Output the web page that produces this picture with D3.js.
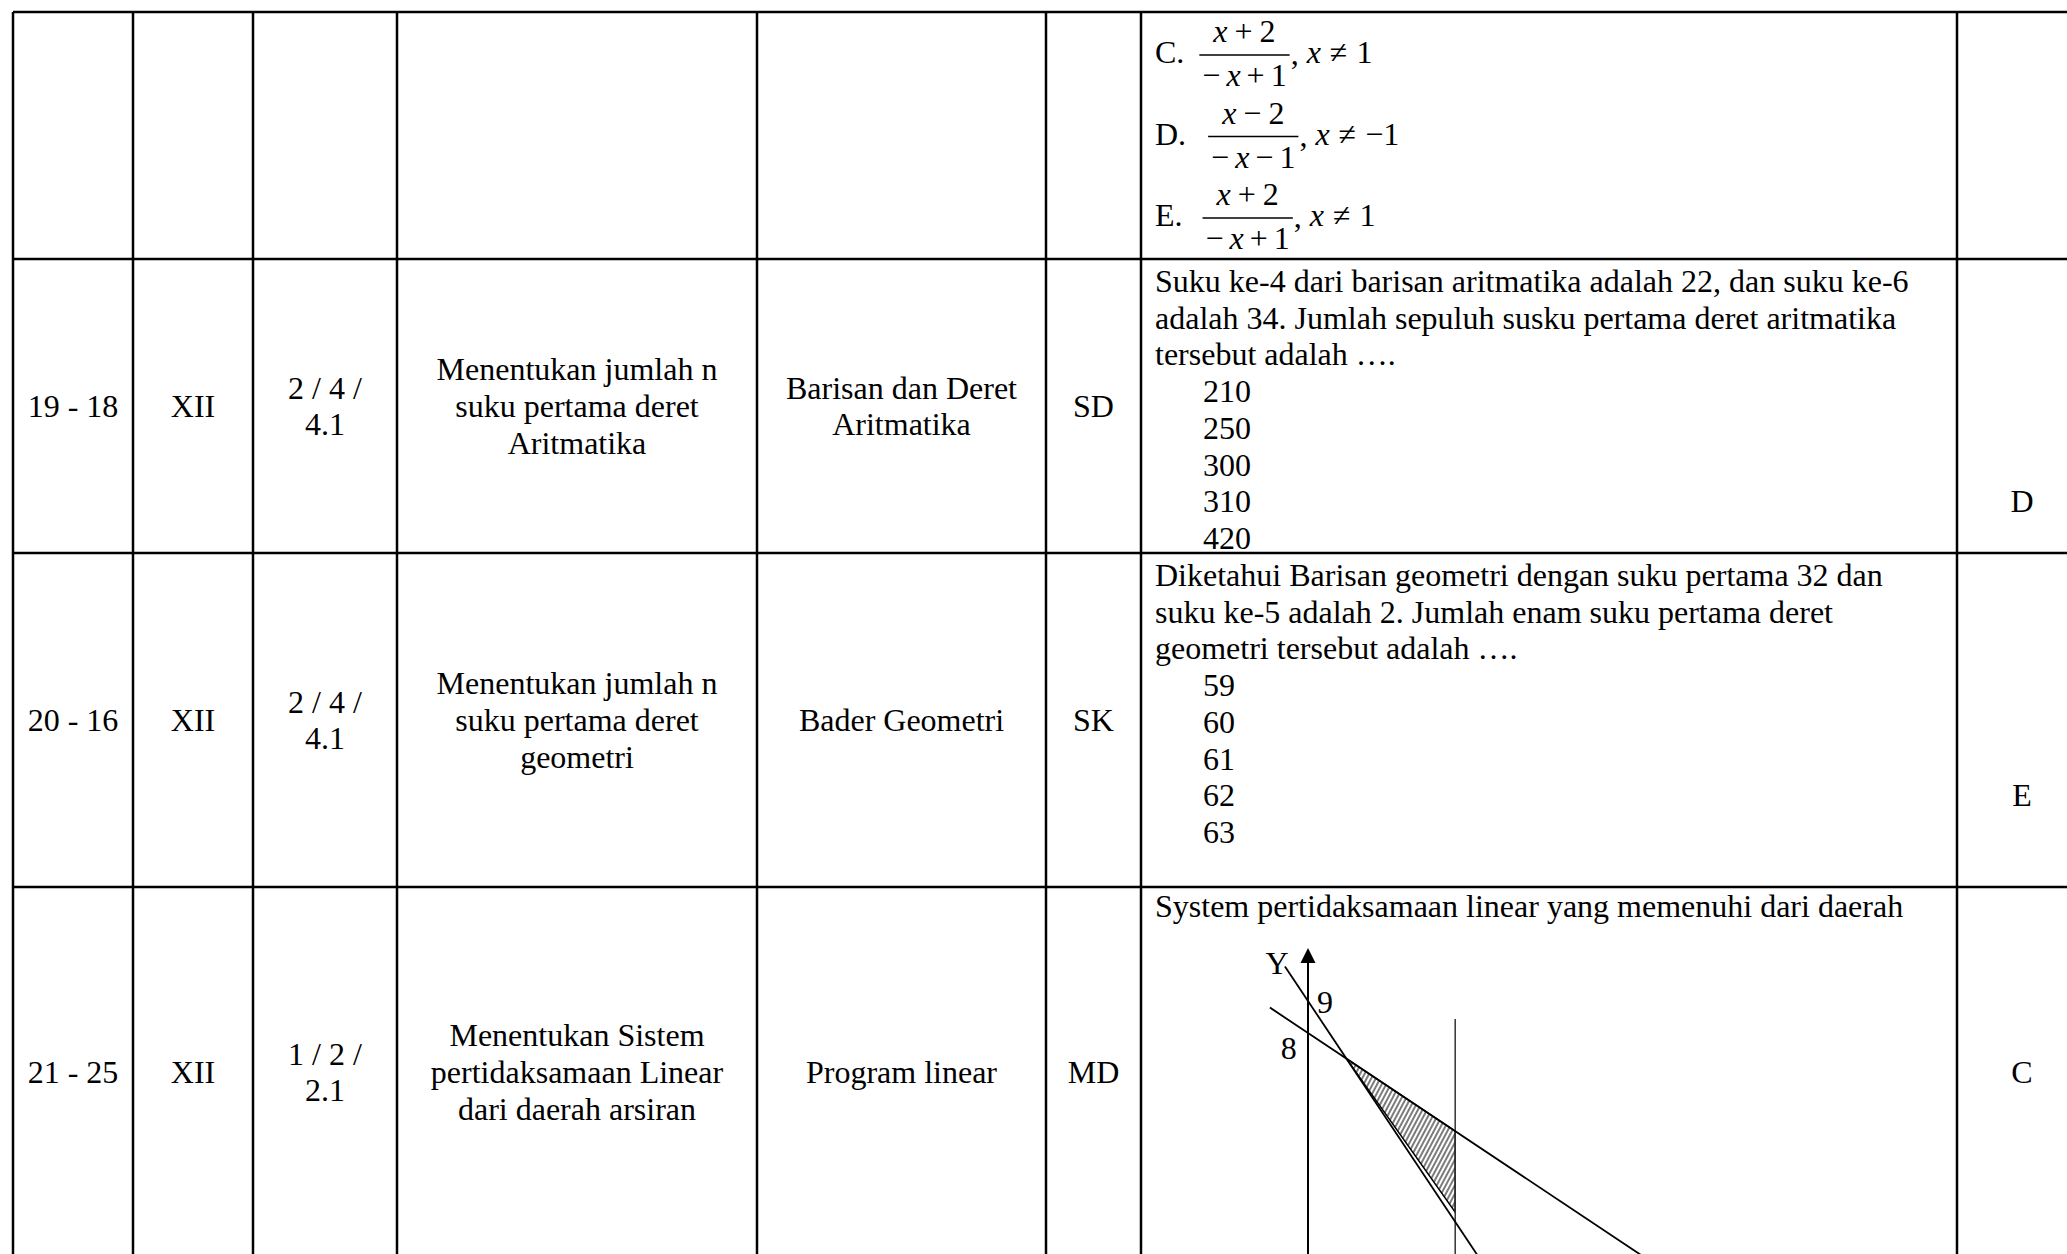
<!DOCTYPE html>
<html>
<head>
<meta charset="utf-8">
<script src="https://cdn.jsdelivr.net/npm/d3@7"></script>
<style>
  body { margin: 0; background: #fff; }
  text { font-family: "Liberation Serif", "Times New Roman", serif; fill: #000; }
</style>
</head>
<body>
<div id="sheet"></div>
<script>
// Table content, one entry per row (first row is the tail of the previous question)
const nomor = ["", "19 - 18", "20 - 16", "21 - 25"];
const kelas = ["", "XII", "XII", "XII"];
const kompetensi = [[], ["2 / 4 /", "4.1"], ["2 / 4 /", "4.1"], ["1 / 2 /", "2.1"]];
const indikator = [
    [],
    ["Menentukan jumlah n", "suku pertama deret", "Aritmatika"],
    ["Menentukan jumlah n", "suku pertama deret", "geometri"],
    ["Menentukan Sistem", "pertidaksamaan Linear", "dari daerah arsiran"]
];
const materi = [[], ["Barisan dan Deret", "Aritmatika"], ["Bader Geometri"], ["Program linear"]];
const level = ["", "SD", "SK", "MD"];
const soalTeks = [
    [],
    ["Suku ke-4 dari barisan aritmatika adalah 22, dan suku ke-6",
     "adalah 34. Jumlah sepuluh susku pertama deret aritmatika",
     "tersebut adalah …."],
    ["Diketahui Barisan geometri dengan suku pertama 32 dan",
     "suku ke-5 adalah 2. Jumlah enam suku pertama deret",
     "geometri tersebut adalah …."],
    ["System pertidaksamaan linear yang memenuhi dari daerah"]
];
const pilihan = [[], ["210", "250", "300", "310", "420"], ["59", "60", "61", "62", "63"], []];
const kunci = ["", "D", "E", "C"];
const kunciBaris = [null, 6, 6, null]; // line of the question the key sits on (null = centred)

// Options C-E of the previous question (fractions)
const opsi = ["C.", "D.", "E."];
const pembilang = [["x", "+", "2"], ["x", "−", "2"], ["x", "+", "2"]];
const penyebut = [["−", "x", "+", "1"], ["−", "x", "−", "1"], ["−", "x", "+", "1"]];
const syarat = [["x", "≠", "1"], ["x", "≠", "−1"], ["x", "≠", "1"]];

// Graph of question 21: a*x + b*y = c, drawn between x = from and x = to
const garis = [
    {a: 3, b: 2, c: 18, from: -0.72, to: 6.6},
    {a: 2, b: 3, c: 24, from: -1.19, to: 12}
];
const batasX = 4.6;          // vertical boundary x = 4.6
const batasXAtas = 8.44;     // where that line starts
const sumbuYAtas = 10.66;    // top of the y axis (arrow tip)
const arsirBawah = 2.4;      // lower corner of the shaded region on x = batasX
const labelGrafik = [
    {t: "Y", x: -0.97, y: 10.19},
    {t: "9", x: 0.53, y: 8.97},
    {t: "8", x: -0.6, y: 7.53}
];

// Layout
const W = 2067, H = 1254;
const FS = 32, LH = 36.7;
const colEdges = [13, 133, 253, 397, 757, 1046, 1141, 1957, 2087];
const rowEdges = [12, 259, 553, 887, 1257];

const svg = d3.select("#sheet").append("svg")
    .attr("width", W)
    .attr("height", H)
    .style("display", "block");

svg.append("rect").attr("width", W).attr("height", H).attr("fill", "#fff");

const colMid = i => (colEdges[i] + colEdges[i + 1]) / 2;
const rowMid = r => (rowEdges[r] + rowEdges[r + 1]) / 2;

// Centred multi-line text in a cell
function cellText(lines, col, row) {
    const n = lines.length;
    svg.append("g").selectAll("text")
        .data(lines)
        .enter().append("text")
        .attr("x", colMid(col))
        .attr("y", (d, i) => rowMid(row) + (i - (n - 1) / 2) * LH + 0.34 * FS)
        .attr("text-anchor", "middle")
        .attr("font-size", FS)
        .text(d => d);
}

for (let r = 1; r < nomor.length; r++) {
    cellText([nomor[r]], 0, r);
    cellText([kelas[r]], 1, r);
    cellText(kompetensi[r], 2, r);
    cellText(indikator[r], 3, r);
    cellText(materi[r], 4, r);
    cellText([level[r]], 5, r);

    // Question text, then indented answer choices
    const x0 = colEdges[6] + 14;
    const base = r === 3 ? rowEdges[r] + 30 : rowEdges[r] + 33;
    const lines = soalTeks[r].map(t => ({t, indent: 0}))
        .concat(pilihan[r].map(t => ({t, indent: 48})));
    svg.append("g").selectAll("text")
        .data(lines)
        .enter().append("text")
        .attr("x", d => x0 + d.indent)
        .attr("y", (d, i) => base + i * LH)
        .attr("font-size", FS)
        .text(d => d.t);

    // Answer key
    svg.append("text")
        .attr("x", colMid(7))
        .attr("y", kunciBaris[r] === null ? rowMid(r) + 0.34 * FS : base + kunciBaris[r] * LH)
        .attr("text-anchor", "middle")
        .attr("font-size", FS)
        .text(kunci[r]);
}

// Math tokens laid out left to right with a small gap
function mathTokens(tokens, x, y, gap, anchor) {
    const g = svg.append("g");
    const els = tokens.map(t => g.append("text")
        .attr("font-size", FS)
        .attr("font-style", t === "x" ? "italic" : "normal")
        .attr("y", y)
        .text(t));
    const widths = els.map(e => e.node().getComputedTextLength());
    const total = d3.sum(widths) + gap * (tokens.length - 1);
    let cx = anchor === "middle" ? x - total / 2 : x;
    els.forEach((e, i) => { e.attr("x", cx); cx += widths[i] + gap; });
    return total;
}

const opsiGap = [15, 22, 20];
opsi.forEach((label, i) => {
    const bar = 55 + i * 81.5;
    const x0 = colEdges[6] + 14;
    const lab = svg.append("text")
        .attr("x", x0).attr("y", bar + 8)
        .attr("font-size", FS)
        .text(label);
    const barX = x0 + lab.node().getComputedTextLength() + opsiGap[i];

    // measure numerator and denominator, then centre both on the bar
    const probe = svg.append("g").attr("opacity", 0);
    const measure = toks => toks.map(t => probe.append("text").attr("font-size", FS)
        .attr("font-style", t === "x" ? "italic" : "normal").text(t).node().getComputedTextLength());
    const wNum = d3.sum(measure(pembilang[i])) + 7 * (pembilang[i].length - 1);
    const wDen = d3.sum(measure(penyebut[i])) + 6 * (penyebut[i].length - 1);
    probe.remove();
    const barW = Math.max(wNum, wDen) + 6;
    const mid = barX + barW / 2;

    svg.append("line")
        .attr("x1", barX).attr("x2", barX + barW)
        .attr("y1", bar).attr("y2", bar)
        .attr("stroke", "#000").attr("stroke-width", 1.6);
    mathTokens(pembilang[i], mid, bar - 13, 7, "middle");
    mathTokens(penyebut[i], mid, bar + 31, 6, "middle");

    const comma = svg.append("text")
        .attr("x", barX + barW + 1).attr("y", bar + 9)
        .attr("font-size", FS).text(",");
    const cx = barX + barW + 1 + comma.node().getComputedTextLength() + 8;
    mathTokens(syarat[i], cx, bar + 8, 9, "start");
});

// Graph for question 21
const gx = d3.scaleLinear().domain([0, 1]).range([1308, 1340]);
const gy = d3.scaleLinear().domain([0, 9]).range([1289, 1001]);
const graph = svg.append("g");

const defs = svg.append("defs");
defs.append("pattern")
    .attr("id", "hatch")
    .attr("patternUnits", "userSpaceOnUse")
    .attr("width", 4).attr("height", 10)
    .attr("patternTransform", "rotate(28)")
    .append("line")
    .attr("x1", 1).attr("x2", 1).attr("y1", 0).attr("y2", 10)
    .attr("stroke", "#333").attr("stroke-width", 1.3);

// shaded region: intersection of the two lines, the upper line on x = batasX, and a lower corner
const [l1, l2] = garis;
const det = l1.a * l2.b - l2.a * l1.b;
const px = (l1.c * l2.b - l2.c * l1.b) / det;
const py = (l1.a * l2.c - l2.a * l1.c) / det;
const arsir = [[px, py], [batasX, (l2.c - l2.a * batasX) / l2.b], [batasX, arsirBawah]];
graph.append("path")
    .attr("d", d3.line().x(d => gx(d[0])).y(d => gy(d[1]))(arsir) + "Z")
    .attr("fill", "url(#hatch)")
    .attr("stroke", "#000")
    .attr("stroke-width", 1.5);

// y axis with arrow
graph.append("line")
    .attr("x1", gx(0)).attr("x2", gx(0))
    .attr("y1", gy(sumbuYAtas) + 10).attr("y2", gy(-2))
    .attr("stroke", "#000").attr("stroke-width", 2);
graph.append("path")
    .attr("d", `M${gx(0)},${gy(sumbuYAtas)} l-7.5,15 h15 Z`)
    .attr("fill", "#000");

// vertical boundary
graph.append("line")
    .attr("x1", gx(batasX)).attr("x2", gx(batasX))
    .attr("y1", gy(batasXAtas)).attr("y2", gy(-2))
    .attr("stroke", "#333").attr("stroke-width", 1.5);

// the two slanted lines
graph.selectAll("line.garis")
    .data(garis)
    .enter().append("line")
    .attr("class", "garis")
    .attr("x1", d => gx(d.from)).attr("y1", d => gy((d.c - d.a * d.from) / d.b))
    .attr("x2", d => gx(d.to)).attr("y2", d => gy((d.c - d.a * d.to) / d.b))
    .attr("stroke", "#000").attr("stroke-width", 1.8);

graph.selectAll("text")
    .data(labelGrafik)
    .enter().append("text")
    .attr("x", d => gx(d.x))
    .attr("y", d => gy(d.y) + 0.34 * FS)
    .attr("text-anchor", "middle")
    .attr("font-size", FS)
    .text(d => d.t);

// Table borders
const grid = svg.append("g").attr("stroke", "#000").attr("stroke-width", 2.5);
grid.selectAll("line.v")
    .data(colEdges)
    .enter().append("line")
    .attr("class", "v")
    .attr("x1", d => d).attr("x2", d => d)
    .attr("y1", rowEdges[0]).attr("y2", rowEdges[rowEdges.length - 1]);
grid.selectAll("line.h")
    .data(rowEdges)
    .enter().append("line")
    .attr("class", "h")
    .attr("x1", colEdges[0]).attr("x2", colEdges[colEdges.length - 1])
    .attr("y1", d => d).attr("y2", d => d);
</script>
</body>
</html>
